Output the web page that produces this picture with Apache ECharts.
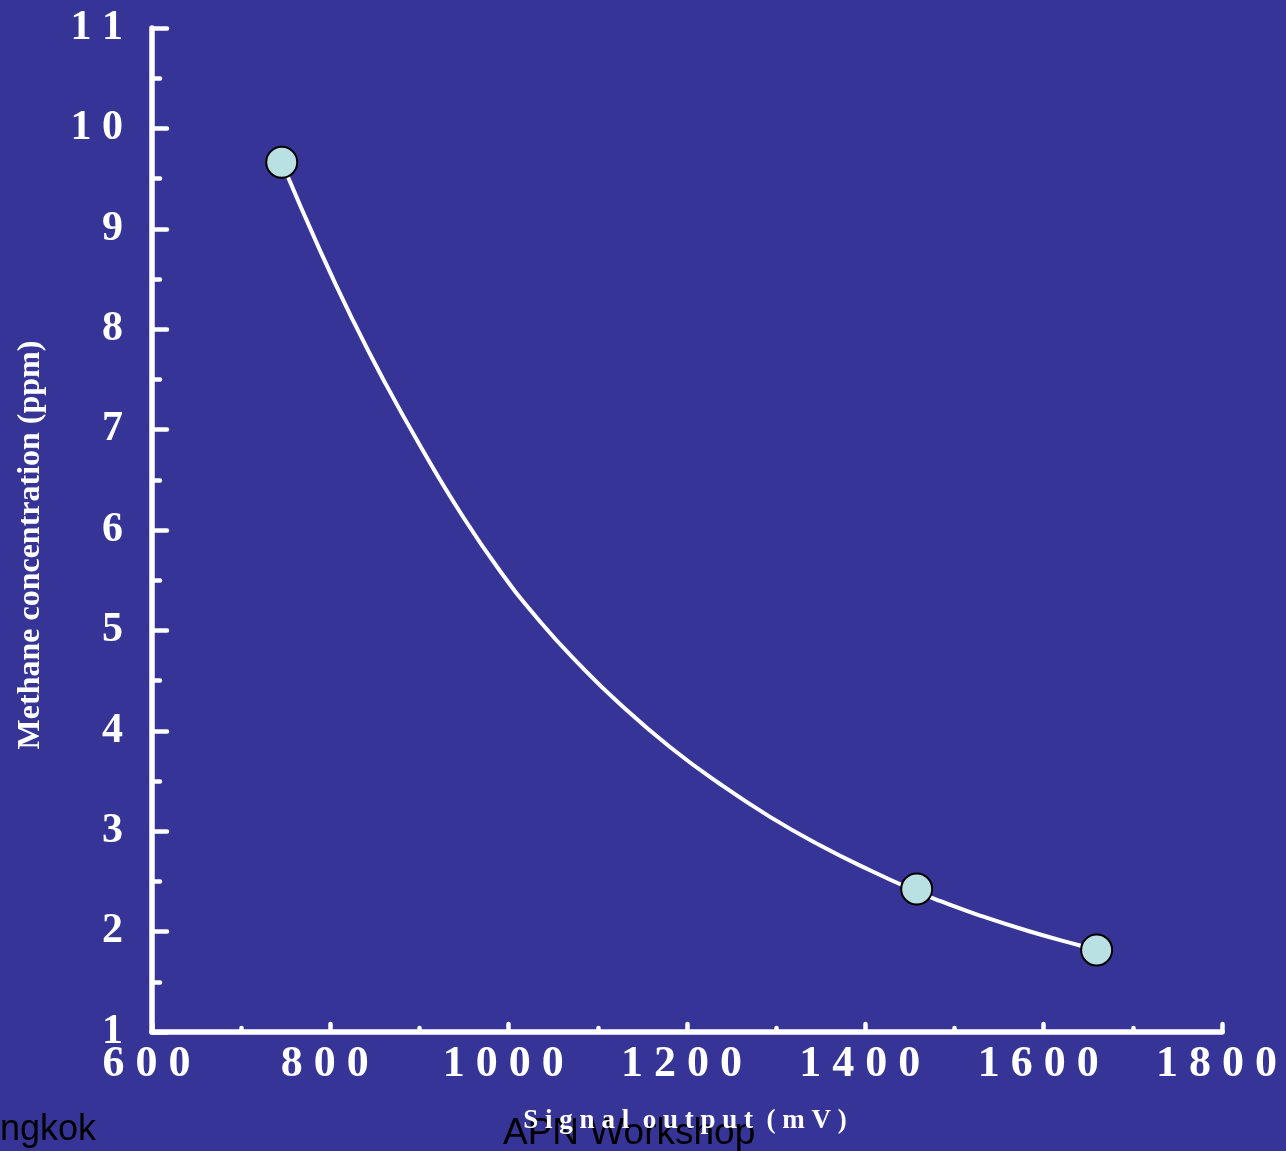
<!DOCTYPE html>
<html>
<head>
<meta charset="utf-8">
<script src="https://cdn.jsdelivr.net/npm/echarts@6/dist/echarts.min.js"></script>
<style>
  html, body { margin: 0; padding: 0; background: #363597; overflow: hidden; }
  #chart { width: 1286px; height: 1151px; }
</style>
</head>
<body>
<div id="chart"></div>
<script>
// Measured calibration points (mV, ppm)
const measuredX = [745.5, 1457.6, 1659.4];
const measuredY = [9.662, 2.424, 1.817];

// Fitted curve (mV, ppm)
const curveX = [745.5, 788.4, 825.7, 859.4, 900.6, 945.4, 990.3, 1035.1, 1080.0, 1124.8, 1180.9, 1237.0, 1293.1, 1349.1, 1405.2, 1457.6, 1483.7, 1528.6, 1584.6, 1640.7, 1659.4];
const curveY = [9.662, 8.785, 8.082, 7.499, 6.841, 6.179, 5.592, 5.089, 4.655, 4.267, 3.839, 3.470, 3.143, 2.860, 2.611, 2.399, 2.305, 2.160, 2.001, 1.862, 1.819];

// Axis ranges / ticks
const xMin = 600, xMax = 1800, xStep = 200;
const yMin = 1, yMax = 11, yStep = 1;

const yTitle = 'Methane concentration (ppm)';
const xTitle = 'S i g n a l  o u t p u t  ( m V )';
const footerLeft = 'ngkok';
const footerCenter = 'APN Workshop';

const serif = "'Liberation Serif', 'Times New Roman', serif";
const sans = "'Liberation Sans', Arial, sans-serif";
const spaced = v => String(v).split('').join(' ');

const chart = echarts.init(document.getElementById('chart'), null, { renderer: 'canvas' });
chart.setOption({
  animation: false,
  backgroundColor: '#363597',
  grid: { left: 152, right: 64, top: 28, bottom: 119, containLabel: false, outerBoundsMode: 'none' },
  xAxis: {
    type: 'value', min: xMin, max: xMax, interval: xStep,
    axisLine: { show: true, lineStyle: { color: '#fff', width: 5.5, cap: 'round' } },
    axisTick: { show: true, inside: true, length: 8, lineStyle: { color: '#fff', width: 4.5, cap: 'round' } },
    minorTick: { show: true, splitNumber: 2, length: 4, lineStyle: { color: '#fff', width: 4.5, cap: 'round' } },
    splitLine: { show: false },
    axisLabel: {
      color: '#fff', fontFamily: serif, fontWeight: 'bold', fontSize: 44, margin: 11,
      formatter: v => spaced(v) + ' '
    }
  },
  yAxis: {
    type: 'value', min: yMin, max: yMax, interval: yStep,
    axisLine: { show: true, lineStyle: { color: '#fff', width: 5.5, cap: 'round' } },
    axisTick: { show: true, inside: true, length: 15, lineStyle: { color: '#fff', width: 4.5, cap: 'round' } },
    minorTick: { show: true, splitNumber: 2, length: 8, lineStyle: { color: '#fff', width: 4.5, cap: 'round' } },
    splitLine: { show: false },
    axisLabel: {
      color: '#fff', fontFamily: serif, fontWeight: 'bold', fontSize: 42, margin: 29,
      formatter: v => spaced(v)
    }
  },
  series: [
    {
      type: 'line', smooth: 0.5, showSymbol: false, symbol: 'none',
      data: curveX.map((x, i) => [x, curveY[i]]),
      lineStyle: { color: '#fff', width: 4 },
      z: 2
    },
    {
      type: 'scatter', symbol: 'circle', symbolSize: 31,
      data: measuredX.map((x, i) => [x, measuredY[i]]),
      itemStyle: { color: '#b9e0e3', borderColor: '#000', borderWidth: 2, opacity: 1 },
      z: 3
    }
  ],
  graphic: [
    {
      type: 'text', x: 31, y: 545, rotation: Math.PI / 2, z: 10,
      style: { text: yTitle, fill: '#fff', font: 'bold 32px ' + serif, align: 'center', verticalAlign: 'middle' }
    },
    {
      type: 'text', x: 503, y: 1134, z: 10,
      style: { text: footerCenter, fill: '#000', font: '37px ' + sans, align: 'left', verticalAlign: 'middle' }
    },
    {
      type: 'text', x: 0, y: 1130, z: 10,
      style: { text: footerLeft, fill: '#000', font: '36px ' + sans, align: 'left', verticalAlign: 'middle' }
    },
    {
      type: 'text', x: 685, y: 1121, z: 11,
      style: { text: xTitle, fill: '#fff', font: 'bold 27px ' + serif, align: 'center', verticalAlign: 'middle' }
    }
  ]
});
</script>
</body>
</html>
